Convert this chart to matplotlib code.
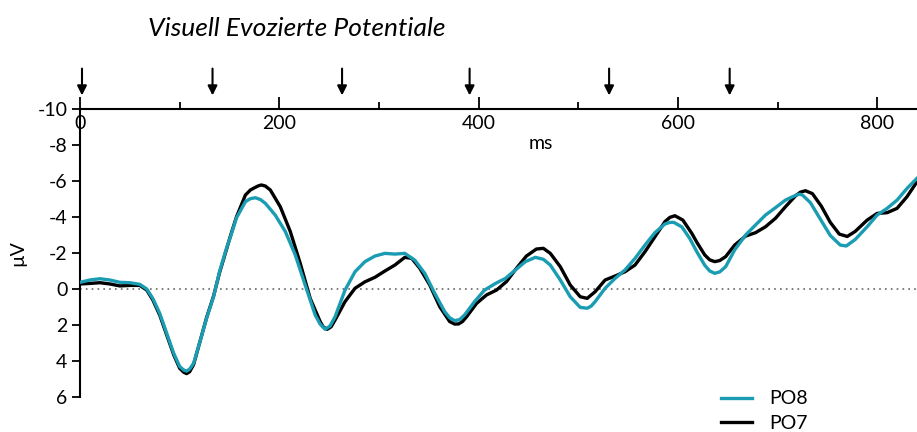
import matplotlib
matplotlib.use("Agg")
import matplotlib.pyplot as plt

plt.rcParams["font.family"] = ["Lato", "DejaVu Sans"]
plt.rcParams["axes.unicode_minus"] = False

# PO8 (teal)
ms_po8 = [0, 10, 20, 30, 40, 50, 60, 67, 73, 80, 87, 94, 100, 104, 107, 110, 114, 120, 127,
          134, 140, 147, 151, 157, 166, 171, 176, 181, 186, 196, 206, 216, 226, 236, 241, 246,
          251, 256, 266, 276, 286, 296, 306, 316, 326, 336, 346, 356, 366, 371, 376, 381, 386,
          396, 406, 417, 427, 437, 447, 457, 465, 472, 482, 492, 502, 509, 513, 517, 527, 537,
          547, 557, 567, 577, 587, 592, 596, 604, 612, 619, 627, 632, 637, 642, 648, 657, 668,
          678, 688, 698, 708, 718, 722, 725, 733, 743, 753, 763, 769, 778, 790, 800, 810, 820,
          830, 840]
uv_po8 = [-0.37, -0.5, -0.57, -0.5, -0.37, -0.35, -0.26, 0.0, 0.52, 1.35, 2.46, 3.57, 4.3,
          4.5, 4.56, 4.45, 4.13, 3.0, 1.63, 0.43, -0.96, -2.26, -2.9, -3.95, -4.85, -5.02,
          -5.07, -4.97, -4.76, -4.1, -3.2, -1.9, -0.22, 1.44, 1.95, 2.24, 2.05, 1.54, 0.06,
          -0.96, -1.52, -1.83, -1.98, -1.94, -1.98, -1.6, -0.87, 0.24, 1.26, 1.6, 1.76, 1.7,
          1.44, 0.7, 0.06, -0.31, -0.59, -1.06, -1.52, -1.76, -1.65, -1.33, -0.5, 0.43, 1.02,
          1.07, 0.95, 0.7, -0.04, -0.59, -1.06, -1.7, -2.44, -3.13, -3.61, -3.7, -3.7, -3.45,
          -2.8, -2.07, -1.32, -1.0, -0.87, -0.95, -1.24, -2.17, -3.0, -3.56, -4.11, -4.52,
          -4.94, -5.2, -5.27, -5.22, -4.8, -3.88, -2.97, -2.44, -2.39, -2.75, -3.46, -4.11,
          -4.48, -4.94, -5.59, -6.15]

# PO7 (black)
ms_po7 = [0, 10, 20, 30, 40, 50, 60, 67, 73, 80, 87, 94, 100, 104, 107, 110, 114, 120, 127,
          134, 140, 147, 151, 157, 166, 171, 176, 179, 182, 186, 191, 201, 211, 221, 231, 241,
          244, 248, 252, 256, 266, 276, 286, 296, 306, 316, 326, 333, 341, 351, 361, 371, 376,
          380, 384, 388, 398, 408, 418, 428, 438, 448, 458, 465, 472, 482, 492, 502, 509, 517,
          527, 537, 547, 557, 567, 577, 587, 592, 597, 605, 614, 619, 627, 632, 637, 642, 648,
          657, 668, 678, 688, 698, 708, 718, 723, 728, 735, 744, 753, 762, 770, 778, 790, 800,
          810, 820, 830, 840]
uv_po7 = [-0.28, -0.31, -0.35, -0.28, -0.17, -0.2, -0.2, 0.06, 0.6, 1.45, 2.55, 3.65, 4.4,
          4.62, 4.7, 4.6, 4.2, 3.0, 1.6, 0.4, -0.9, -2.2, -2.95, -4.0, -5.22, -5.5, -5.65,
          -5.73, -5.78, -5.72, -5.5, -4.57, -3.2, -1.43, 0.52, 1.81, 2.1, 2.24, 2.1, 1.72, 0.7,
          -0.04, -0.4, -0.65, -1.0, -1.33, -1.76, -1.7, -1.15, -0.22, 0.98, 1.81, 1.95, 1.94,
          1.8, 1.54, 0.8, 0.33, 0.06, -0.41, -1.15, -1.83, -2.22, -2.26, -1.98, -1.24, -0.22,
          0.43, 0.52, 0.15, -0.5, -0.72, -0.96, -1.33, -2.07, -2.9, -3.74, -3.98, -4.07, -3.83,
          -3.09, -2.6, -1.89, -1.62, -1.52, -1.58, -1.8, -2.44, -2.94, -3.13, -3.46, -3.93,
          -4.57, -5.17, -5.38, -5.46, -5.3, -4.6, -3.7, -3.05, -2.92, -3.2, -3.83, -4.2, -4.24,
          -4.48, -5.13, -5.96]

# stimulus markers (ms)
arrows_ms = [2, 133, 263, 391, 531, 652]

teal = "#1a9cb3"

fig = plt.figure(figsize=(9.17, 4.32), dpi=100)
ax = fig.add_axes([80 / 917, 35 / 432, 837 / 917, 288 / 432])

ax.axhline(0, color="#666666", lw=1.2, ls=(0, (1, 2.5)), zorder=1)
ax.plot(ms_po7, uv_po7, color="black", lw=2.4, solid_joinstyle="round", label="PO7", zorder=3)
ax.plot(ms_po8, uv_po8, color=teal, lw=2.4, solid_joinstyle="round", label="PO8", zorder=4)

ax.set_xlim(0, 840)
ax.set_ylim(6, -10)

for s in ["top", "right"]:
    ax.spines[s].set_visible(False)
ax.spines["bottom"].set_position(("axes", 1.0))
for s in ["left", "bottom"]:
    ax.spines[s].set_linewidth(1.5)

ax.set_xticks([0, 200, 400, 600, 800])
ax.set_xticks([100, 300, 500, 700], minor=True)
ax.set_yticks(range(-10, 7, 2))
ax.tick_params(axis="x", which="major", direction="in", length=9, width=1.3, pad=4, labelsize=14)
ax.tick_params(axis="x", which="minor", direction="in", length=5, width=1.3)
ax.tick_params(axis="y", direction="out", length=6, width=1.3, pad=3, labelsize=14)

ax.text(462, -8.1, "ms", fontsize=14, ha="center", va="center")
ax.set_ylabel("µV", fontsize=14, labelpad=8)

for a in arrows_ms:
    ax.annotate("", xy=(a, -10.6), xytext=(a, -12.4),
                arrowprops=dict(arrowstyle="-|>", color="black", lw=1.5, mutation_scale=14),
                annotation_clip=False)

fig.text(297 / 917, 1 - 28 / 432, "Visuell Evozierte Potentiale", fontsize=19,
         style="italic", ha="center", va="center")

h, l = ax.get_legend_handles_labels()
ax.legend(h[::-1], l[::-1], loc="upper left", bbox_to_anchor=(0.757, 0.05), frameon=False,
          fontsize=14, handlelength=1.55, handletextpad=0.9, labelspacing=0.4, borderaxespad=0)

fig.savefig("out.png", dpi=100)
